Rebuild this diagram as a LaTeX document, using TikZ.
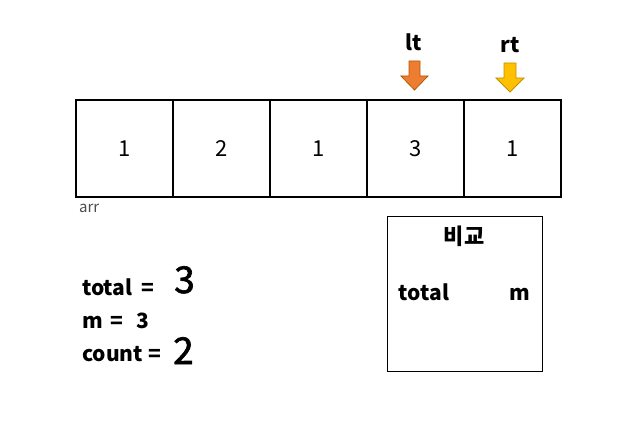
\documentclass[tikz,border=0pt]{standalone}
\usepackage{fontspec}
\setmainfont{Noto Sans CJK KR}
\newfontfamily\handfont[FakeBold=1.8]{Noto Sans CJK KR}
\begin{document}
\begin{tikzpicture}[x=1pt,y=-1pt,
  cell/.style={draw=black,line width=2.2pt,minimum width=97pt,minimum height=97pt,inner sep=0pt,font=\fontsize{22}{24}\selectfont},
  lbl/.style={font=\fontsize{21}{24}\selectfont\bfseries,inner sep=0pt,anchor=base west},
  hand/.style={font=\handfont\fontsize{37}{37}\selectfont,inner sep=0pt,anchor=base west},
  arrowshape/.style={line width=0.8pt,line join=miter}]
\useasboundingbox (0,0) rectangle (637,430);
% array cells
\node[cell] (c1) at (124.5,148.5) {1};
\node[cell] (c2) at (221.5,148.5) {2};
\node[cell] (c3) at (318.5,148.5) {1};
\node[cell] (c4) at (415.5,148.5) {3};
\node[cell] (c5) at (512.5,148.5) {1};
\node[anchor=base west,inner sep=0pt,text=black!70,font=\fontsize{15}{15}\selectfont] (arr) at (79,213) {arr};
% pointer labels
\node[font=\fontsize{21}{22}\selectfont\bfseries,inner sep=0pt,anchor=base] (lt) at (414,51) {lt};
\node[font=\fontsize{21}{22}\selectfont\bfseries,inner sep=0pt,anchor=base] (rt) at (510,53) {rt};
% arrows
\draw[arrowshape,draw=orange!70!black,fill={rgb,255:red,237;green,125;blue,49}]
  (409,61) -- (420,61) -- (420,76) -- (428,76) -- (414.5,90) -- (401,76) -- (409,76) -- cycle;
\draw[arrowshape,draw={rgb,255:red,191;green,144;blue,0},fill={rgb,255:red,255;green,192;blue,0}]
  (504,63) -- (516,63) -- (516,78) -- (524,78) -- (510,92) -- (496,78) -- (504,78) -- cycle;
% compare box
\node[draw=black,line width=0.9pt,minimum width=155pt,minimum height=155pt,inner sep=0pt] (cmp) at (464.5,293.5) {};
\node[font=\fontsize{22}{24}\selectfont\bfseries,inner sep=0pt,anchor=base] (bg) at (464,245) {비교};
\node[lbl,anchor=base] (ct) at (424,301) {total};
\node[lbl,anchor=base] (cm) at (520,301) {m};
% variables
\node[lbl] (tot) at (82,295) {total\hspace{9pt}=};
\node[hand] (h3) at (174,293) {3};
\node[lbl] (mv) at (82,328) {m\hspace{8pt}=\hspace{13pt}3};
\node[lbl] (cnt) at (82,361) {count\hspace{5pt}=};
\node[hand] (h2) at (173,364) {2};
\end{tikzpicture}
\end{document}
